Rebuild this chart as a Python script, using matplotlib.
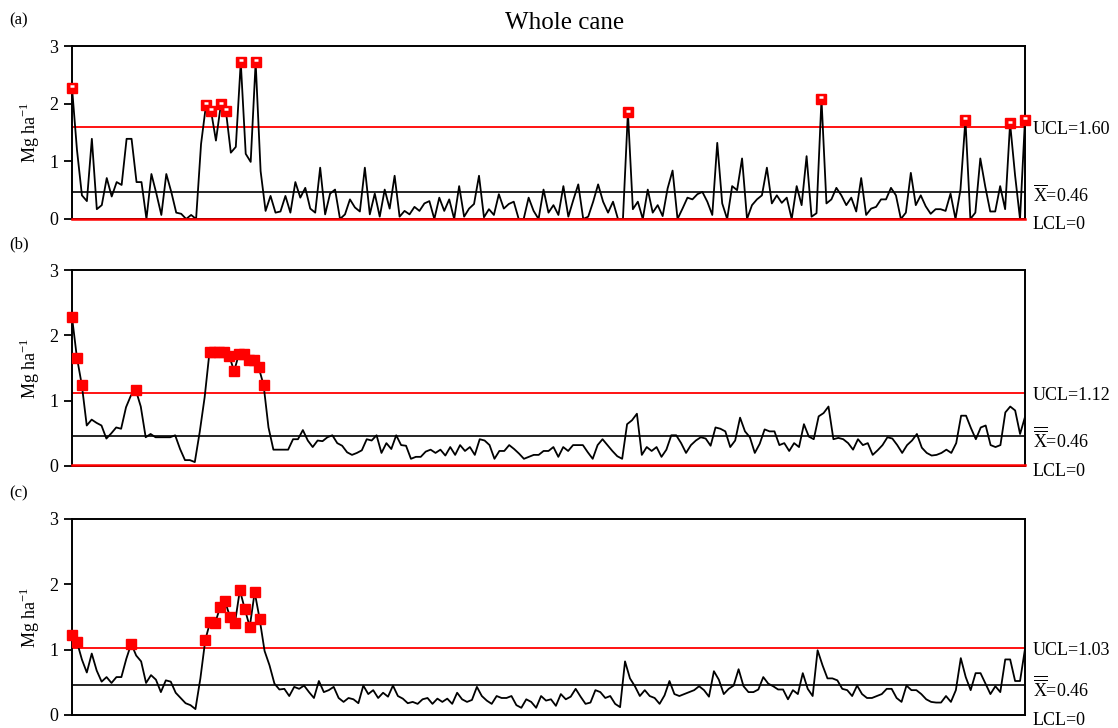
import numpy as np
import matplotlib
matplotlib.use("Agg")
import matplotlib.pyplot as plt

plt.rcParams['font.family'] = ['Liberation Serif', 'DejaVu Serif']
plt.rcParams['mathtext.fontset'] = 'custom'
plt.rcParams['mathtext.rm'] = 'Liberation Serif'

# (a) valores individuais, Mg ha-1
whole_a = [2.28, 1.2, 0.41, 0.31, 1.39, 0.17, 0.24, 0.71, 0.39, 0.64, 0.59, 1.39, 1.39, 0.64, 0.64, 0, 0.78, 0.44,
           0.07, 0.78, 0.47, 0.11, 0.09, 0, 0.07, 0, 1.3, 1.98, 1.88, 1.36, 1.99, 1.88, 1.15, 1.25, 2.72, 1.13, 0.99,
           2.72, 0.83, 0.14, 0.40, 0.11, 0.13, 0.40, 0.11, 0.64, 0.37, 0.54, 0.18, 0.11, 0.89, 0.08, 0.44, 0.51, 0,
           0.08, 0.34, 0.2, 0.13, 0.89, 0.08, 0.44, 0.04, 0.51, 0.18,
           0.75, 0.04, 0.14, 0.08, 0.21, 0.14, 0.27, 0.31, 0, 0.37, 0.14, 0.34, 0, 0.57, 0.04, 0.18, 0.26, 0.75, 0.03,
           0.17, 0.07, 0.43, 0.18, 0.26, 0.3, 0, 0, 0.37, 0.14, 0, 0.51, 0.11, 0.24, 0.07, 0.57, 0.04, 0.33, 0.6, 0,
           0.04, 0.3, 0.6, 0.3, 0.11, 0.3, 0, 0, 1.85, 0.17, 0.3, 0, 0.51, 0.11, 0.24, 0.05, 0.53, 0.84, 0, 0.18,
           0.37, 0.34, 0.43, 0.47, 0.3, 0.07,
           1.32, 0.27, 0, 0.57, 0.5, 1.05, 0, 0.24, 0.34, 0.41, 0.89, 0.27, 0.41, 0.28, 0.37, 0, 0.57, 0.24, 1.09,
           0.04, 0.1, 2.08, 0.27, 0.34, 0.54, 0.41, 0.24, 0.37, 0.13, 0.71, 0.07, 0.18, 0.21, 0.34, 0.34, 0.54, 0.41,
           0, 0.11, 0.8, 0.24, 0.41, 0.22, 0.09, 0.17, 0.17, 0.14, 0.44, 0, 0.51, 1.72, 0, 0.11, 1.05, 0.56, 0.13,
           0.13, 0.57, 0.17, 1.66, 0.76, 0, 1.72]

# (b) media movel
whole_b = [2.28, 1.66, 1.24, 0.62, 0.71, 0.66, 0.62, 0.42, 0.5, 0.59, 0.57, 0.9, 1.08, 1.16, 0.91, 0.44, 0.49, 0.44,
           0.44, 0.44, 0.44, 0.47, 0.26, 0.09, 0.09, 0.06, 0.52, 1.05, 1.75, 1.75, 1.75, 1.75, 1.69, 1.45, 1.72, 1.72,
           1.62, 1.62, 1.51, 1.24, 0.59, 0.25, 0.25, 0.25, 0.25, 0.41, 0.41, 0.55, 0.39, 0.29, 0.39, 0.38, 0.44, 0.47,
           0.35, 0.31, 0.21, 0.17, 0.2, 0.24, 0.41, 0.39, 0.47, 0.2, 0.35, 0.26,
           0.47, 0.32, 0.31, 0.11, 0.14, 0.14, 0.22, 0.25, 0.2, 0.25, 0.16, 0.29, 0.17, 0.32, 0.23, 0.29, 0.17, 0.41,
           0.39, 0.32, 0.11, 0.23, 0.23, 0.32, 0.26, 0.19, 0.11, 0.14, 0.17, 0.17, 0.23, 0.23, 0.29, 0.14, 0.29, 0.23,
           0.32, 0.32, 0.32, 0.21, 0.11, 0.32, 0.41, 0.32, 0.23, 0.15, 0.11, 0.64, 0.7, 0.8, 0.17, 0.29, 0.23, 0.29,
           0.14, 0.25, 0.47, 0.47, 0.35, 0.2, 0.32, 0.39, 0.44, 0.42, 0.31,
           0.59, 0.57, 0.53, 0.29, 0.39, 0.74, 0.53, 0.44, 0.2, 0.34, 0.56, 0.53, 0.53, 0.32, 0.35, 0.23, 0.35, 0.29,
           0.64, 0.45, 0.41, 0.76, 0.81, 0.91, 0.41, 0.43, 0.41, 0.35, 0.25, 0.41, 0.32, 0.35, 0.17, 0.24, 0.32, 0.44,
           0.42, 0.32, 0.2, 0.32, 0.39, 0.49, 0.28, 0.2, 0.16, 0.17, 0.2, 0.25, 0.2, 0.35, 0.77, 0.77, 0.58, 0.41,
           0.59, 0.62, 0.32, 0.29, 0.32, 0.82, 0.91, 0.85, 0.49, 0.75]

# (c) media movel exponencial
whole_c = [1.22, 1.12, 0.85, 0.65, 0.94, 0.68, 0.51, 0.58, 0.49, 0.58, 0.58, 0.86, 1.09, 0.91, 0.82, 0.49, 0.61, 0.54,
           0.35, 0.53, 0.51, 0.34, 0.26, 0.18, 0.15, 0.09, 0.56, 1.15, 1.43, 1.41, 1.65, 1.74, 1.5, 1.41, 1.91, 1.62,
           1.35, 1.88, 1.47, 0.98, 0.76, 0.48, 0.39, 0.4, 0.29, 0.43, 0.4, 0.45, 0.35, 0.26, 0.52, 0.35, 0.38, 0.43,
           0.26, 0.2, 0.26, 0.24, 0.18, 0.45, 0.32, 0.38, 0.26, 0.34, 0.28,
           0.45, 0.29, 0.25, 0.18, 0.2, 0.17, 0.24, 0.26, 0.17, 0.25, 0.2, 0.25, 0.17, 0.34, 0.24, 0.2, 0.23, 0.43,
           0.29, 0.22, 0.17, 0.29, 0.26, 0.26, 0.29, 0.15, 0.11, 0.24, 0.2, 0.11, 0.29, 0.22, 0.24, 0.14, 0.32, 0.24,
           0.28, 0.4, 0.28, 0.17, 0.19, 0.38, 0.35, 0.26, 0.29, 0.17, 0.12, 0.82, 0.56, 0.44, 0.29, 0.38, 0.29, 0.26,
           0.17, 0.3, 0.52, 0.32, 0.29, 0.32, 0.35, 0.38, 0.44, 0.38, 0.28,
           0.67, 0.54, 0.32, 0.4, 0.45, 0.7, 0.44, 0.35, 0.35, 0.39, 0.58, 0.48, 0.44, 0.39, 0.39, 0.24, 0.38, 0.32,
           0.64, 0.4, 0.29, 0.99, 0.76, 0.56, 0.56, 0.53, 0.4, 0.38, 0.29, 0.45, 0.32, 0.26, 0.26, 0.29, 0.32, 0.4,
           0.4, 0.26, 0.2, 0.45, 0.38, 0.38, 0.32, 0.24, 0.2, 0.19, 0.19, 0.29, 0.2, 0.38, 0.87, 0.58, 0.38, 0.64,
           0.64, 0.48, 0.32, 0.44, 0.35, 0.85, 0.85, 0.52, 0.52, 1.01]

media = 0.46
ucl = [1.60, 1.12, 1.03]
lcl = [0.0, 0.02, None]
rotulos = ["(a)", "(b)", "(c)"]
xbar = [r"$\mathregular{\overline{X}}$=0.46",
        r"$\mathregular{\overline{\overline{X}}}$=0.46",
        r"$\mathregular{\overline{\overline{X}}}$=0.46"]

fig = plt.figure(figsize=(11.18, 7.28), dpi=100)
posicoes = [[0.0644, 0.6992, 0.8524, 0.2376],
            [0.0644, 0.3599, 0.8524, 0.2692],
            [0.0644, 0.0179, 0.8524, 0.2692]]

for k, serie in enumerate([whole_a, whole_b, whole_c]):
    ax = fig.add_axes(posicoes[k])
    y = np.array(serie, dtype=float)
    n = np.arange(len(y))

    ax.axhline(ucl[k], color='red', lw=1.3, zorder=2)
    ax.axhline(media, color='black', lw=1.2, zorder=2)
    if lcl[k] is not None:
        ax.axhline(lcl[k], color='red', lw=1.8, zorder=6, clip_on=False)

    ax.plot(n, y, color='black', lw=1.3, zorder=3)
    fora = y > ucl[k]
    ax.plot(n[fora], y[fora], 's', color='red', ms=7, mec='red', zorder=4, clip_on=False)
    if k == 0:
        ax.plot(n[fora], y[fora] + 0.03, '_', color='white', ms=3.5, mew=1.8, zorder=5, clip_on=False)

    ax.set_xlim(0, len(y) - 1)
    ax.set_ylim(0, 3)
    ax.set_xticks([])
    ax.set_yticks([0, 1, 2, 3])
    ax.tick_params(axis='y', direction='out', length=6, width=1.3, labelsize=13, pad=4)
    for s in ax.spines.values():
        s.set_linewidth(1.4)
    ax.set_ylabel("Mg ha$^{\\mathregular{-1}}$", fontsize=13, labelpad=5)

    tr = ('axes fraction', 'data')
    ax.annotate(f"UCL={ucl[k]:.2f}", xy=(1.008, ucl[k]), xycoords=tr, xytext=(0, -3),
                textcoords='offset pixels', va='center', ha='left', fontsize=13, annotation_clip=False)
    ax.annotate(xbar[k], xy=(1.008, media), xycoords=tr, xytext=(0, -3),
                textcoords='offset pixels', va='center', ha='left', fontsize=13, annotation_clip=False)
    ax.annotate("LCL=0", xy=(1.008, 0), xycoords=tr, xytext=(0, -6),
                textcoords='offset pixels', va='center', ha='left', fontsize=13, annotation_clip=False)

    fig.text(0.008, posicoes[k][1] + posicoes[k][3] + 0.035, rotulos[k], fontsize=12, va='center')

fig.text(0.505, 0.968, "Whole cane", fontsize=18, ha='center', va='center')

plt.savefig("out.png", dpi=100)
